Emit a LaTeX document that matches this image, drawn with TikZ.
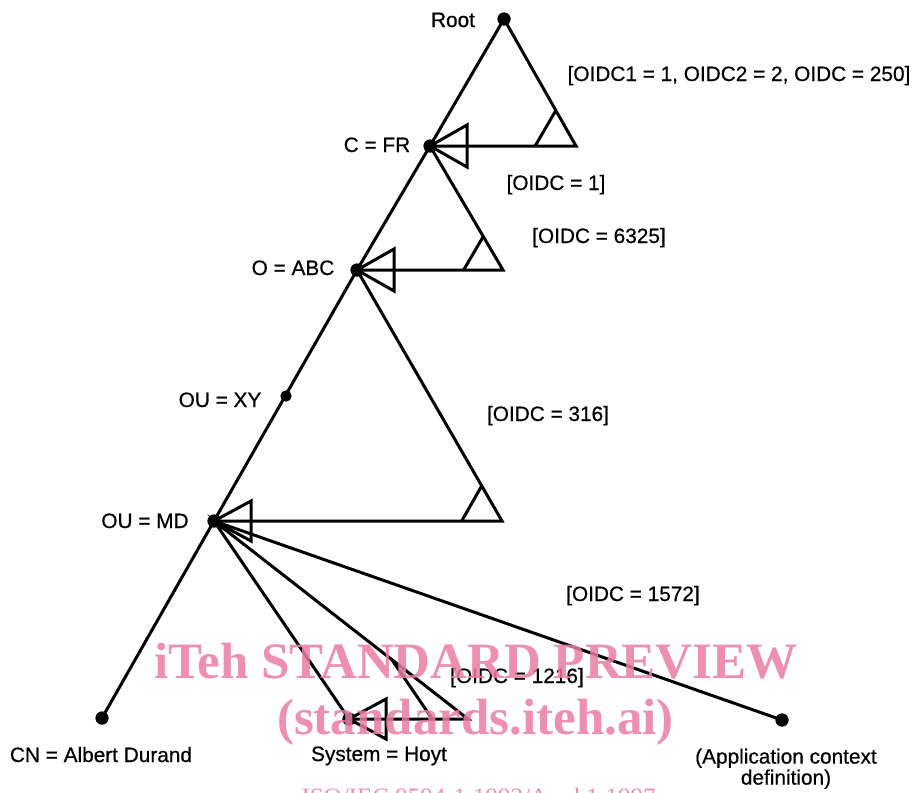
\documentclass[tikz,border=0pt]{standalone}
\usepackage{fontspec}
\setmainfont{Liberation Sans}
\newfontfamily\lblfont{Liberation Sans}[FakeBold=0.6]
\newfontfamily\wmfont{Liberation Serif}
\usetikzlibrary{calc}
\definecolor{wmpink}{RGB}{234,125,160}
\begin{document}
\begin{tikzpicture}[x=1pt,y=-1pt,line width=3pt,line join=miter,
  dot/.style={circle,fill=black,draw=none,inner sep=0pt,minimum size=13pt},
  lbl/.style={anchor=base,inner sep=0pt,font=\lblfont\fontsize{20.8}{21}\selectfont},
  wmbig/.style={inner sep=0pt,anchor=base,text=wmpink,text opacity=0.85,font=\wmfont\bfseries\fontsize{51}{51}\selectfont},
  wmsmall/.style={inner sep=0pt,anchor=base west,text=wmpink,text opacity=0.85,font=\wmfont\fontsize{25}{25}\selectfont}]
\useasboundingbox (0,0) rectangle (914,793);
% points
\node[dot] (root) at (504,19) {};
\node[dot] (cfr) at (430,146) {};
\coordinate (cfrR) at (576,146);
\node[dot] (oabc) at (357,270) {};
\coordinate (oabcR) at (503,270);
\node[dot,minimum size=11pt] (ouxy) at (286,396) {};
\node[dot] (oumd) at (214,521) {};
\coordinate (oumdR) at (502,521);
\node[dot] (cn) at (102,718) {};
\node[dot] (sys) at (349,719) {};
\coordinate (sysR) at (468,719);
\node[dot] (app) at (782,720) {};
% triangles
\draw (cfr.center) -- (root.center) -- (cfrR) -- cycle;
\draw (oabc.center) -- (cfr.center) -- (oabcR) -- cycle;
\draw (oumd.center) -- (oabc.center) -- (oumdR) -- cycle;
\draw (sys.center) -- (oumd.center) -- (sysR) -- cycle;
% small marks
\draw ($(cfrR)!0.28!(cfr)$) -- ($(cfrR)!0.28!(root)$);
\draw ($(oabcR)!0.27!(oabc)$) -- ($(oabcR)!0.27!(cfr)$);
\draw ($(oumdR)!0.14!(oumd)$) -- ($(oumdR)!0.14!(oabc)$);
\draw ($(sysR)!0.30!(sys)$) -- ($(sysR)!0.30!(oumd)$);
% open arrowheads
\draw (cfr.center) -- ++(37,-21) -- ++(0,42) -- cycle;
\draw (oabc.center) -- ++(37,-21) -- ++(0,42) -- cycle;
\draw (oumd.center) -- ++(37,-20) -- ++(0,40) -- cycle;
\draw (sys.center) -- ++(37,-20) -- ++(0,40) -- cycle;
% other edges
\draw (oumd.center) -- (cn.center);
\draw (oumd.center) -- (app.center);
% dots again on top
\foreach \p in {root,cfr,oabc,oumd,cn,sys,app} \fill (\p) circle (6.5pt);
\fill (ouxy) circle (5.5pt);
% labels
\node[lbl] (lroot) at (453,27) {Root};
\node[lbl] (l250) at (739,81) {[OIDC1 = 1, OIDC2 = 2, OIDC = 250]};
\node[lbl] (l1) at (556,190) {[OIDC = 1]};
\node[lbl] (l6325) at (599,243) {[OIDC = 6325]};
\node[lbl] (lcfr) at (377,152) {C = FR};
\node[lbl] (loabc) at (293,275) {O = ABC};
\node[lbl] (louxy) at (220,407) {OU = XY};
\node[lbl] (l316) at (548,421) {[OIDC = 316]};
\node[lbl] (loumd) at (145,528) {OU = MD};
\node[lbl] (l1572) at (633,601) {[OIDC = 1572]};
\node[lbl] (l1216) at (517,683) {[OIDC = 1216]};
\node[lbl] (lcn) at (101,762) {CN = Albert Durand};
\node[lbl] (lsys) at (379,761) {System = Hoyt};
\node[lbl,anchor=north,align=center] (lapp) at (786,747) {(Application context\\definition)};
% watermark
\node[wmbig] (wm1) at (476,678) {iTeh STANDARD PREVIEW};
\node[wmbig] (wm2) at (475.5,734) {(standards.iteh.ai)};
\node[wmsmall] (wm3) at (300,805) {ISO/IEC 9594-1:1993/Amd.1:1997};
\end{tikzpicture}
\end{document}
